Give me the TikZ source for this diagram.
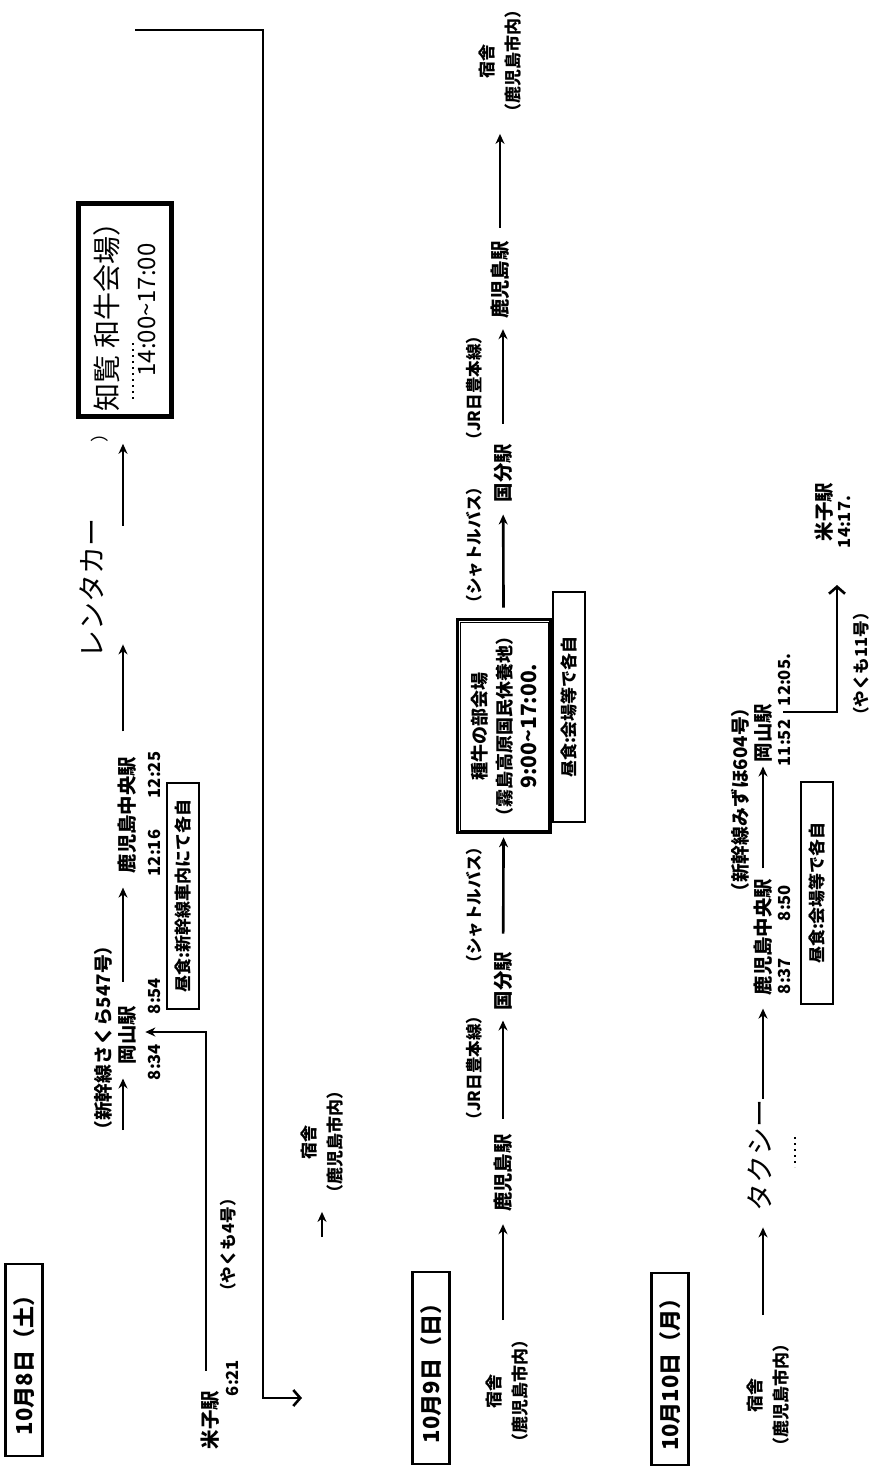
\documentclass[tikz,border=0pt]{standalone}
\usepackage{fontspec}
\newfontfamily\jp{Noto Sans CJK JP}
\usetikzlibrary{arrows.meta,positioning}
\tikzset{
  lbl/.style={rotate=90,inner sep=1pt,font=\jp\bfseries\fontsize{8.3}{10}\selectfont},
  wide/.style={lbl,font=\jp\bfseries\fontsize{9.4}{10}\selectfont},
  stn/.style={lbl,inner sep=2pt,font=\jp\bfseries\fontsize{9.7}{11}\selectfont},
  inn/.style={lbl,align=center,inner sep=2pt,font=\jp\bfseries\fontsize{8.5}{13}\selectfont},
  datebox/.style={lbl,draw,line width=1.3pt,minimum width=96pt,minimum height=18.5pt,font=\jp\bfseries\fontsize{11}{12}\selectfont},
  lunchbox/.style={lbl,draw,line width=1pt,minimum height=16pt,font=\jp\bfseries\fontsize{8.5}{10}\selectfont},
  venuebox/.style={rotate=90,draw,line width=1.8pt,fill=white,align=center,inner sep=2pt,font=\jp},
  hand/.style={rotate=90,inner sep=0pt,font=\jp\fontsize{14}{16}\selectfont},
  ar/.style={-{Stealth[length=5pt,width=4.5pt]},line width=1.3pt},
  wr/.style={-{Straight Barb[length=3.5pt,width=8pt]},line width=1.3pt},
}
\begin{document}
\begin{tikzpicture}[x=0.5pt,y=-0.5pt]
\useasboundingbox (0,0) rectangle (883,1472);
% 10月8日
\node[datebox] (d1) at (24,1360) {10月8日（土）};
\node[stn] (yonago1) at (210,1420) {米子駅};
\node[lbl] (t621) at (232,1378) {6:21};
\node[lbl] (yakumo4) at (228,1245) {（やくも4号）};
\node[wide] (sakura) at (103,1038) {（新幹線さくら547号）};
\node[stn] (okayama1) at (127,1035) {岡山駅};
\node[lbl] (t834) at (154,1062) {8:34};
\node[lbl] (t854) at (154,996) {8:54};
\node[stn] (kc1) at (127,815) {鹿児島中央駅};
\node[lbl] (t1216) at (154,853) {12:16};
\node[lbl] (t1225) at (154,775) {12:25};
\node[lunchbox,minimum width=113pt] (lunch1) at (183,896) {昼食:新幹線車内にて各自};
\node[hand] (rental) at (92,588) {レンタカー};
\node[venuebox,minimum width=107pt,minimum height=47pt] (chiran) at (125,310)
  {{\fontsize{14}{16}\selectfont 知覧 和牛会場）}\\[7pt]{\fontsize{12}{14}\selectfont 14:00\textasciitilde17:00}};
\draw[thin] ([shift={(2.2pt,2.2pt)}]chiran.north west) rectangle ([shift={(-2.2pt,-2.2pt)}]chiran.south east);
\node[hand,font=\jp\fontsize{9}{10}\selectfont] (pm) at (100,433) {）};
\coordinate (s1) at (123,1130);
\coordinate (y1turn) at (206,1032);
\draw[ar,shorten >=5pt] (s1) -- (s1 |- okayama1.west);
\draw[ar,shorten <=10pt,shorten >=5pt] (okayama1.east -| s1) -- (kc1.west -| s1);
\draw[ar,shorten <=10.5pt,shorten >=-7pt] (kc1.east -| s1) -- (rental.west -| s1);
\draw[ar,shorten <=-4pt,shorten >=12.5pt] (rental.east -| s1) -- (chiran.west -| s1);
\draw[ar,shorten <=8pt] (yonago1.east -| y1turn) |- (t834.north |- y1turn);
\draw[dotted,line width=1pt] (133,343) -- (133,400);
% 宿舎へ
\coordinate (w1) at (135,30);
\coordinate (w2) at (263,1398);
\coordinate (w3) at (302,1398);
\draw[wr] (w1) -| (w2) -- (w3);
\node[inn] (inn1) at (322,1142) {宿舎\\（鹿児島市内）};
\coordinate (s2) at (322,1237);
\draw[ar,shorten >=3pt] (s2) -- (s2 |- inn1.west);
% 10月9日
\node[datebox] (d2) at (431,1368) {10月9日（日）};
\node[inn] (inn2) at (507,1391) {宿舎\\（鹿児島市内）};
\node[stn] (kgs1) at (503,1173) {鹿児島駅};
\node[lbl] (jr1) at (474,1068) {（JR日豊本線）};
\node[stn] (kokubu1) at (503,981) {国分駅};
\node[lbl] (bus1) at (474,905) {（シャトルバス）};
\node[lunchbox,minimum width=115pt] (lunch2) at (569,707) {昼食:会場等で各自};
\node[venuebox,minimum width=106.5pt,minimum height=46.5pt,font=\jp\bfseries\fontsize{9}{12.5}\selectfont] (venue2) at (504,726)
  {種牛の部会場\\（霧島高原国民休養地）\\{\fontsize{10.5}{12.5}\selectfont 9:00\textasciitilde17:00.}};
\draw[thin] ([shift={(2.2pt,2.2pt)}]venue2.north west) rectangle ([shift={(-2.2pt,-2.2pt)}]venue2.south east);
\node[lbl] (bus2) at (474,545) {（シャトルバス）};
\node[stn] (kokubu2) at (503,473) {国分駅};
\node[lbl] (jr2) at (474,388) {（JR日豊本線）};
\node[stn] (kgs2) at (500,280) {鹿児島駅};
\node[inn] (inn3) at (500,61) {宿舎\\（鹿児島市内）};
\draw[ar,shorten <=3.5pt,shorten >=4pt] (kgs1.west |- inn2.east) -- (kgs1.west);
\draw[ar,shorten <=5.5pt,shorten >=3pt] (kgs1) -- (kokubu1);
\draw[ar,shorten <=7pt,shorten >=1.5pt] (kokubu1) -- (venue2);
\draw[ar,shorten <=5pt,shorten >=4pt] (venue2) -- (kokubu2);
\draw[ar,shorten <=8pt,shorten >=3pt] (kokubu2.east) -- (kokubu2.east |- kgs2.west);
\draw[ar,shorten <=4.5pt,shorten >=4.5pt] (kgs2.east) -- (kgs2.east |- inn3.west);
% 10月10日
\node[datebox] (d3) at (670,1369) {10月10日（月）};
\node[inn] (inn4) at (768,1395) {宿舎\\（鹿児島市内）};
\node[hand] (taxi) at (760,1155) {タクシー};
\node[stn] (kc2) at (763,937) {鹿児島中央駅};
\node[lbl] (t837) at (784,976) {8:37};
\node[lbl] (t850) at (784,903) {8:50};
\node[wide] (mizuho) at (740,800) {（新幹線みずほ604号）};
\node[stn] (okayama2) at (763,733) {岡山駅};
\node[lbl] (t1152) at (784,743) {11:52};
\node[lbl] (t1205) at (784,680) {12:05.};
\node[lunchbox,minimum width=111pt] (lunch3) at (817,893) {昼食:会場等で各自};
\node[stn] (yonago2) at (824,512) {米子駅};
\node[lbl] (t1417) at (845,522) {14:17.};
\node[lbl] (yakumo11) at (861,664) {（やくも11号）};
\draw[ar,shorten <=8pt,shorten >=8pt] (kc2 |- inn4.east) -- (kc2 |- taxi.west);
\draw[ar,shorten >=4.5pt] (kc2 |- taxi.east) -- (kc2.west);
\draw[ar,shorten <=3pt] (kc2) -- (okayama2);
\draw[dotted,line width=1pt] (795,1137) -- (795,1167);
\coordinate (l3a) at (783,712);
\coordinate (l3b) at (837,585);
\draw[wr] (l3a) -| (l3b);
\end{tikzpicture}
\end{document}
